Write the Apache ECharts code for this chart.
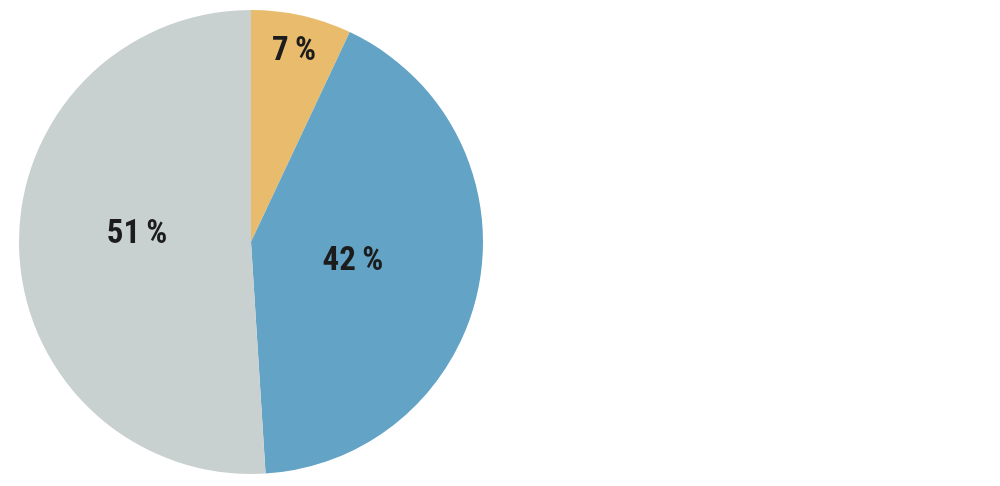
<!DOCTYPE html>
<html>
<head>
<meta charset="utf-8">
<script src="https://cdn.jsdelivr.net/npm/echarts@6/dist/echarts.min.js"></script>
<style>html,body{margin:0;padding:0;background:#fff}#c{width:1000px;height:486px}</style>
</head>
<body>
<div id="c"></div>
<script>
const categories = ['A', 'B', 'C'];
const values = [7, 42, 51];
const labels = ['7\u2009%', '42\u2009%', '51\u2009%'];
const colors = ['#E9BC6D', '#63A3C5', '#C8D0D0'];
const offsets = [[17, -74], [-15, -3], [5, -11]];

const chart = echarts.init(document.getElementById('c'), null, {renderer: 'canvas'});
chart.setOption({
  animation: false,
  series: [{
    type: 'pie',
    center: [251, 242],
    radius: 232,
    startAngle: 90,
    clockwise: true,
    silent: true,
    itemStyle: {borderWidth: 0},
    label: {
      position: 'inside',
      fontFamily: '"Roboto Condensed", "Liberation Sans Narrow", Roboto, sans-serif',
      fontWeight: 'bold',
      fontSize: 33,
      color: '#1c1c1c'
    },
    labelLine: {show: false},
    data: categories.map((c, i) => ({
      name: c,
      value: values[i],
      itemStyle: {color: colors[i]},
      label: {formatter: labels[i], offset: offsets[i]}
    }))
  }]
});
</script>
</body>
</html>
